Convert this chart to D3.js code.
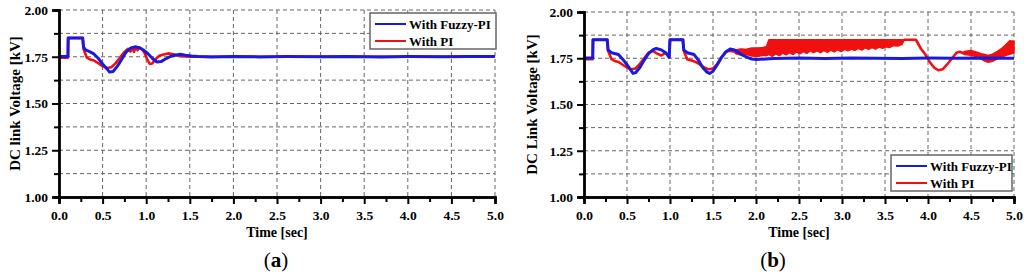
<!DOCTYPE html>
<html>
<head>
<meta charset="utf-8">
<script src="https://cdn.jsdelivr.net/npm/d3@7"></script>
<style>
  body { margin: 0; background: #fff; }
  text { font-family: "Liberation Serif", "Times New Roman", serif; font-weight: bold; }
</style>
</head>
<body>
<svg id="chart" width="1024" height="273"></svg>
<script>
// ---- data ----
const yMajor = [1.00, 1.25, 1.50, 1.75, 2.00];
const yMinor = [1.125, 1.375, 1.625, 1.875];
const xMajor = [0.0, 0.5, 1.0, 1.5, 2.0, 2.5, 3.0, 3.5, 4.0, 4.5, 5.0];
const xMinor = [0.25, 0.75, 1.25, 1.75, 2.25, 2.75, 3.25, 3.75, 4.25, 4.75];

// (a) With Fuzzy-PI
const aFuzzyT = [0, 0.104, 0.106, 0.272, 0.282, 0.31, 0.35, 0.40, 0.45, 0.50, 0.55, 0.58, 0.62, 0.67, 0.72, 0.77, 0.82, 0.87, 0.92, 0.97, 1.02, 1.07, 1.12, 1.17, 1.22, 1.28, 1.33, 1.39, 1.45, 1.52, 1.6, 1.75, 2.0, 2.3, 2.6, 3.0, 3.3, 3.7, 4.0, 4.4, 4.7, 5.0];
const aFuzzyV = [1.752, 1.752, 1.85, 1.85, 1.80, 1.785, 1.777, 1.765, 1.742, 1.712, 1.685, 1.668, 1.671, 1.700, 1.737, 1.775, 1.796, 1.803, 1.798, 1.786, 1.766, 1.742, 1.722, 1.724, 1.738, 1.752, 1.758, 1.763, 1.758, 1.754, 1.751, 1.749, 1.752, 1.749, 1.751, 1.750, 1.752, 1.749, 1.751, 1.750, 1.752, 1.751];
// (a) With PI
const aPiT = [0, 0.1, 0.104, 0.272, 0.282, 0.32, 0.36, 0.40, 0.45, 0.50, 0.55, 0.60, 0.65, 0.70, 0.75, 0.79, 0.82, 0.84, 0.86, 0.88, 0.90, 0.92, 0.95, 0.98, 1.01, 1.04, 1.07, 1.10, 1.15, 1.20, 1.25, 1.30, 1.35, 1.40, 1.50, 1.60, 5.0];
const aPiV = [1.745, 1.745, 1.85, 1.85, 1.79, 1.745, 1.735, 1.730, 1.716, 1.700, 1.690, 1.694, 1.716, 1.746, 1.776, 1.792, 1.778, 1.800, 1.776, 1.802, 1.785, 1.800, 1.792, 1.772, 1.738, 1.712, 1.714, 1.734, 1.755, 1.762, 1.768, 1.765, 1.758, 1.753, 1.750, 1.750, 1.750];

// (b) With Fuzzy-PI
const bFuzzyT = [0, 0.102, 0.105, 0.27, 0.28, 0.32, 0.40, 0.45, 0.50, 0.55, 0.57, 0.60, 0.65, 0.70, 0.75, 0.80, 0.84, 0.90, 0.95, 0.99, 1.0, 1.15, 1.16, 1.20, 1.28, 1.33, 1.38, 1.43, 1.46, 1.50, 1.55, 1.60, 1.65, 1.70, 1.75, 1.80, 1.85, 1.90, 1.95, 2.0, 2.2, 2.5, 2.8, 3.1, 3.4, 3.7, 4.0, 4.3, 4.6, 5.0];
const bFuzzyV = [1.752, 1.752, 1.85, 1.85, 1.795, 1.78, 1.77, 1.745, 1.715, 1.682, 1.668, 1.672, 1.700, 1.740, 1.775, 1.795, 1.803, 1.795, 1.780, 1.755, 1.85, 1.85, 1.795, 1.78, 1.77, 1.74, 1.70, 1.675, 1.668, 1.680, 1.715, 1.755, 1.785, 1.800, 1.795, 1.780, 1.765, 1.755, 1.746, 1.743, 1.748, 1.751, 1.749, 1.752, 1.750, 1.749, 1.751, 1.750, 1.752, 1.750];
// (b) With PI, plain line parts
const bPiT = [0, 0.10, 0.104, 0.27, 0.28, 0.32, 0.36, 0.40, 0.45, 0.50, 0.55, 0.60, 0.65, 0.70, 0.75, 0.80, 0.85, 0.90, 0.95, 0.99, 1.0, 1.15, 1.16, 1.20, 1.25, 1.30, 1.35, 1.40, 1.45, 1.50, 1.55, 1.60, 1.65, 1.70, 1.76];
const bPiV = [1.745, 1.745, 1.85, 1.85, 1.79, 1.745, 1.735, 1.730, 1.715, 1.700, 1.690, 1.695, 1.720, 1.750, 1.780, 1.790, 1.775, 1.765, 1.780, 1.755, 1.85, 1.85, 1.79, 1.745, 1.738, 1.730, 1.715, 1.700, 1.690, 1.695, 1.720, 1.755, 1.785, 1.790, 1.785];
const bPiT2 = [3.72, 3.86, 3.92, 3.97, 4.02, 4.07, 4.12, 4.17, 4.22, 4.28, 4.33, 4.37, 4.42];
const bPiV2 = [1.85, 1.85, 1.80, 1.77, 1.73, 1.70, 1.685, 1.69, 1.715, 1.75, 1.78, 1.785, 1.776];
// (b) With PI, oscillation envelope
const bBandT  = [1.76, 1.82, 1.88, 1.95, 2.02, 2.08, 2.12, 2.15, 2.19, 2.23, 2.27, 2.31, 2.35, 2.39, 2.43, 2.47, 2.51, 2.55, 2.59, 2.63, 2.67, 2.71, 2.75, 2.79, 2.83, 2.87, 2.91, 2.95, 2.99, 3.03, 3.07, 3.11, 3.15, 3.19, 3.23, 3.27, 3.31, 3.35, 3.39, 3.43, 3.47, 3.51, 3.55, 3.60, 3.65, 3.70, 3.72];
const bBandLo = [1.775, 1.768, 1.772, 1.762, 1.760, 1.766, 1.764, 1.770, 1.760, 1.774, 1.764, 1.778, 1.768, 1.780, 1.770, 1.784, 1.774, 1.786, 1.776, 1.790, 1.780, 1.790, 1.780, 1.792, 1.782, 1.794, 1.784, 1.796, 1.786, 1.798, 1.790, 1.800, 1.792, 1.804, 1.794, 1.806, 1.798, 1.808, 1.800, 1.810, 1.804, 1.812, 1.808, 1.818, 1.816, 1.826, 1.848];
const bBandHi = [1.795, 1.800, 1.798, 1.805, 1.806, 1.808, 1.812, 1.850, 1.850, 1.850, 1.850, 1.850, 1.850, 1.850, 1.850, 1.850, 1.850, 1.850, 1.850, 1.850, 1.850, 1.850, 1.850, 1.850, 1.850, 1.850, 1.850, 1.850, 1.850, 1.850, 1.850, 1.850, 1.850, 1.850, 1.850, 1.850, 1.850, 1.850, 1.850, 1.850, 1.850, 1.850, 1.850, 1.850, 1.850, 1.850, 1.850];
const bBand2T  = [4.42, 4.50, 4.56, 4.62, 4.66, 4.70, 4.75, 4.80, 4.85, 4.90, 4.95, 5.0];
const bBand2Lo = [1.770, 1.766, 1.760, 1.745, 1.735, 1.728, 1.734, 1.745, 1.755, 1.765, 1.772, 1.778];
const bBand2Hi = [1.786, 1.792, 1.784, 1.775, 1.770, 1.765, 1.772, 1.785, 1.800, 1.822, 1.845, 1.842];

const legendNames = ["With Fuzzy-PI", "With PI"];
const colFuzzy = "#1a1adf";
const colPi = "#f01010";

const svg = d3.select('#chart');
const zip = (ts, vs) => ts.map((t, i) => [t, vs[i]]);

function drawPanel(cfg) {
    const x = d3.scaleLinear().domain([0, 5]).range([cfg.left, cfg.right]);
    const y = d3.scaleLinear().domain([1, 2]).range([cfg.bottom, cfg.top]);
    const g = svg.append('g');

    // grid
    g.selectAll('.hg').data(yMinor.concat(yMajor.slice(1)))
        .join('line')
        .attr('x1', cfg.left).attr('x2', cfg.right)
        .attr('y1', d => y(d)).attr('y2', d => y(d))
        .attr('stroke', '#666').attr('stroke-width', 1).attr('stroke-dasharray', '4,3');
    g.selectAll('.vg').data(xMajor.slice(1))
        .join('line')
        .attr('y1', cfg.top).attr('y2', cfg.bottom)
        .attr('x1', d => x(d)).attr('x2', d => x(d))
        .attr('stroke', '#666').attr('stroke-width', 1).attr('stroke-dasharray', '4,3');

    const line = d3.line().x(d => x(d[0])).y(d => y(d[1]));
    const area = d3.area().x(d => x(d.t)).y0(d => y(d.lo)).y1(d => y(d.hi));

    // PI (drawn below)
    cfg.pi.forEach(s => {
        g.append('path').attr('d', line(s)).attr('fill', 'none')
            .attr('stroke', colPi).attr('stroke-width', 2.6).attr('stroke-linejoin', 'round');
    });
    (cfg.bands || []).forEach(b => {
        g.append('path').attr('d', area(b)).attr('fill', colPi)
            .attr('stroke', colPi).attr('stroke-width', 1.5).attr('stroke-linejoin', 'round');
    });
    g.append('path').attr('d', line(cfg.fuzzy)).attr('fill', 'none')
        .attr('stroke', colFuzzy).attr('stroke-width', 3).attr('stroke-linejoin', 'round');

    // axes
    g.append('g').attr('transform', `translate(${cfg.left},0)`)
        .call(d3.axisLeft(y).tickValues(yMajor).tickFormat(d3.format('.2f')).tickSizeOuter(0).tickSize(7).tickPadding(4));
    g.append('g').attr('transform', `translate(${cfg.left},0)`)
        .call(d3.axisLeft(y).tickValues(yMinor).tickFormat('').tickSizeOuter(0).tickSize(5));
    g.append('g').attr('transform', `translate(0,${cfg.bottom})`)
        .call(d3.axisBottom(x).tickValues(xMajor).tickFormat(d3.format('.1f')).tickSizeOuter(0).tickSize(7).tickPadding(6));
    g.append('g').attr('transform', `translate(0,${cfg.bottom})`)
        .call(d3.axisBottom(x).tickValues(xMinor).tickFormat('').tickSizeOuter(0).tickSize(5));
    g.selectAll('.domain').attr('stroke', '#000').attr('stroke-width', 2.4);
    g.selectAll('.tick line').attr('stroke', '#000').attr('stroke-width', 2);
    g.selectAll('.tick text').attr('font-size', 13.5).attr('fill', '#000')
        .style('font-family', '"Liberation Serif", serif').style('font-weight', 'bold');

    // titles
    g.append('text').attr('transform', `translate(${cfg.yTitleX},${(cfg.top + cfg.bottom) / 2}) rotate(-90)`)
        .attr('text-anchor', 'middle').attr('font-size', 15).text(cfg.yTitle);
    g.append('text').attr('x', (cfg.left + cfg.right) / 2).attr('y', 237)
        .attr('text-anchor', 'middle').attr('font-size', 14).text('Time [sec]');
    const lab = g.append('text').attr('x', cfg.labelX).attr('y', 267)
        .attr('text-anchor', 'middle').attr('font-size', 21);
    lab.append('tspan').style('font-weight', 'normal').text('(');
    lab.append('tspan').text(cfg.label);
    lab.append('tspan').style('font-weight', 'normal').text(')');

    // legend
    const L = cfg.legend;
    g.append('rect').attr('x', L.x).attr('y', L.y).attr('width', L.w).attr('height', L.h)
        .attr('fill', '#fff').attr('stroke', '#666').attr('stroke-width', 1.5);
    legendNames.forEach((name, i) => {
        const ly = L.y + 11 + i * 17;
        g.append('line').attr('x1', L.x + 5).attr('x2', L.x + 36).attr('y1', ly).attr('y2', ly)
            .attr('stroke', i === 0 ? colFuzzy : colPi).attr('stroke-width', 2);
        g.append('text').attr('x', L.x + 39).attr('y', ly + 4.5).attr('font-size', 13).text(name);
    });
}

drawPanel({
    left: 59, right: 495, top: 10, bottom: 197,
    yTitle: 'DC link Voltage [kV]', yTitleX: 20, label: 'a', labelX: 276,
    fuzzy: zip(aFuzzyT, aFuzzyV),
    pi: [zip(aPiT, aPiV)],
    legend: { x: 370, y: 13, w: 126, h: 36 }
});

drawPanel({
    left: 584, right: 1014, top: 12, bottom: 197,
    yTitle: 'DC Link Voltage [kV]', yTitleX: 537, label: 'b', labelX: 773,
    fuzzy: zip(bFuzzyT, bFuzzyV),
    pi: [zip(bPiT, bPiV), zip(bPiT2, bPiV2)],
    bands: [
        bBandT.map((t, i) => ({ t: t, lo: bBandLo[i], hi: bBandHi[i] })),
        bBand2T.map((t, i) => ({ t: t, lo: bBand2Lo[i], hi: bBand2Hi[i] }))
    ],
    legend: { x: 891, y: 155, w: 121, h: 36 }
});
</script>
</body>
</html>
